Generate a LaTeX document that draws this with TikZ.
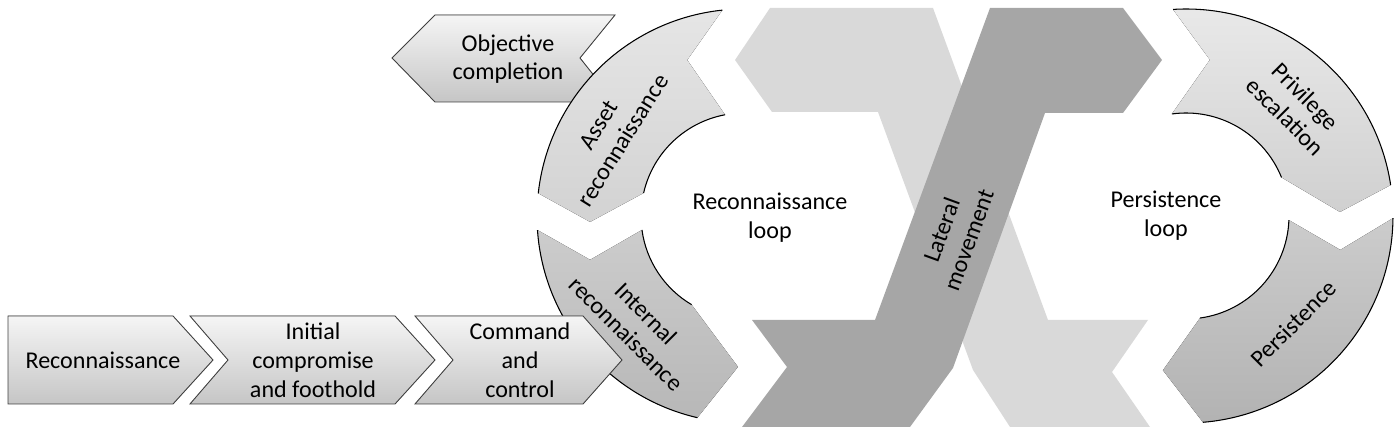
\documentclass[tikz,border=0pt]{standalone}
\usepackage{fontspec}
\setmainfont{Carlito}
\usetikzlibrary{positioning}
\tikzset{%
    % Specifications for style of shapes and texts:
    plain/.style = {font=\fontsize{13.7}{16.4}\selectfont, align=center, text=black, inner sep=0pt},
    chev/.style = {draw=black!75, line width=0.5pt, top color=gray!8, bottom color=gray!45},
    arcline/.style = {draw=black, line width=0.6pt},
    asset/.style = {top color=gray!20, bottom color=gray!35},
    internal/.style = {top color=gray!40, bottom color=gray!56},
    privesc/.style = {top color=gray!17, bottom color=gray!37},
    persist/.style = {top color=gray!40, bottom color=gray!60},
    lightband/.style = {fill=gray!30},
    darkband/.style = {fill=gray!70}
}
\begin{document}
\begin{tikzpicture}[x=0.02cm, y=0.02cm]
\useasboundingbox (0,0) rectangle (1400,432);
% Bands in the middle (light one under the dark one)
\fill[lightband] (735,372) -- (770,424) -- (933,424) -- (1048,112) -- (1148,112) -- (1112,60)
    -- (1150,5) -- (1010,5) -- (973,62) -- (878,320) -- (772,320) -- cycle;
\fill[darkband] (742,5) -- (787,65) -- (752,112) -- (875,112) -- (990,424) -- (1123,424)
    -- (1162,372) -- (1123,319) -- (1045,319) -- (953,64) -- (910,5) -- cycle;
\node[plain, rotate=70] (lateral) at (955,197) {Lateral\\movement};
% Objective completion (under the ring)
\filldraw[chev] (392,374) -- (435,417) -- (615,417) -- (580,374) -- (615,330) -- (435,330) -- cycle;
\node[plain] (objective) at (508,373) {Objective\\completion};
% Reconnaissance loop
\begin{scope}[shift={(744,216)}]
  \fill[asset] (96:207) arc[start angle=96, end angle=173.7, radius=207] -- (182.2:154)
      -- (167.1:103) arc[start angle=167.1, end angle=100.6, radius=103] -- (110:166) -- cycle;
  \draw[arcline] (96:207) arc[start angle=96, end angle=173.7, radius=207];
  \draw[arcline] (167.1:103) arc[start angle=167.1, end angle=100.6, radius=103];
  \fill[internal] (183.9:207) arc[start angle=183.9, end angle=257, radius=207] -- (267.7:151)
      -- (239.4:103) arc[start angle=239.4, end angle=187.8, radius=103] -- (195.9:160) -- cycle;
  \draw[arcline] (183.9:207) arc[start angle=183.9, end angle=257, radius=207];
  \draw[arcline] (239.4:103) arc[start angle=239.4, end angle=187.8, radius=103];
  \node[plain, rotate=58] (asset) at (148:157) {Asset\\reconnaissance};
  \node[plain, rotate=-45] (internal) at (225:152) {Internal\\reconnaissance};
\end{scope}
\node[plain] (reconloop) at (770,214) {Reconnaissance\\loop};
% Persistence loop
\begin{scope}[shift={(1186,216)}]
  \fill[privesc] (93.6:207) arc[start angle=93.6, end angle=8.6, radius=207] -- (1.5:154)
      -- (22:103) arc[start angle=22, end angle=97.9, radius=103] -- (81.3:158) -- cycle;
  \draw[arcline] (93.6:207) arc[start angle=93.6, end angle=8.6, radius=207];
  \draw[arcline] (22:103) arc[start angle=22, end angle=97.9, radius=103];
  \fill[persist] (-0.6:207) arc[start angle=-0.6, end angle=-85.3, radius=207] -- (-98.5:156)
      -- (-82.2:103) arc[start angle=-82.2, end angle=-2.3, radius=103] -- (-12.4:158) -- cycle;
  \draw[arcline] (-0.6:207) arc[start angle=-0.6, end angle=-85.3, radius=207];
  \draw[arcline] (-82.2:103) arc[start angle=-82.2, end angle=-2.3, radius=103];
  \node[plain, rotate=-45] (privilege) at (45:155) {Privilege\\escalation};
  \node[plain, rotate=45] (persistence) at (-45:152) {Persistence};
\end{scope}
\node[plain] (persloop) at (1166,216) {Persistence\\loop};
% Bottom chain (over the internal reconnaissance)
\filldraw[chev] (8,116) -- (173,116) -- (213,72) -- (173,28) -- (8,28) -- cycle;
\filldraw[chev] (190,116) -- (395,116) -- (435,72) -- (395,28) -- (190,28) -- (228,72) -- cycle;
\filldraw[chev] (415,116) -- (583,116) -- (622,72) -- (583,28) -- (415,28) -- (453,72) -- cycle;
\node[plain] (recon) at (103,72) {Reconnaissance};
\node[plain] (initial) at (313,72) {Initial\\compromise\\and foothold};
\node[plain] (command) at (520,72) {Command\\and\\control};
\end{tikzpicture}
\end{document}
